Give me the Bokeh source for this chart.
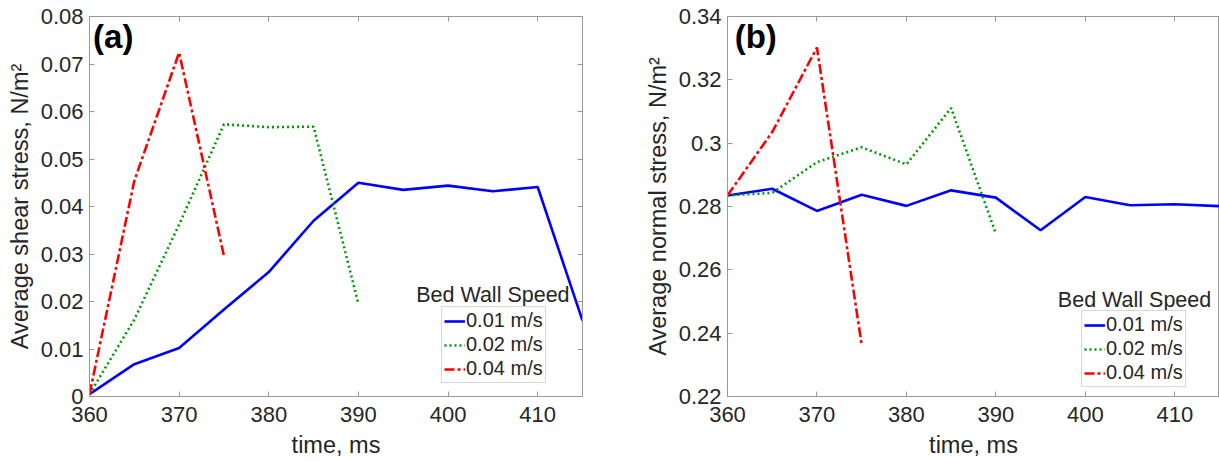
from bokeh.plotting import figure
from bokeh.models import (LinearAxis, FixedTicker, CustomJSTickFormatter, Legend,
                          LegendItem, Label, Range1d)
from bokeh.layouts import row
from bokeh.embed import file_html
from bokeh.resources import INLINE

# ---------------- data ----------------
time_001 = [360, 365, 370, 375, 380, 385, 390, 395, 400, 405, 410, 415]
time_002 = [360, 365, 370, 375, 380, 385, 390]
time_004 = [360, 365, 370, 375]

shear_001 = [0.0005, 0.0068, 0.0102, 0.0183, 0.0262, 0.0370, 0.0450, 0.0435, 0.0444, 0.0432, 0.0441, 0.0160]
shear_002 = [0.0005, 0.0162, 0.0362, 0.0573, 0.0567, 0.0568, 0.0195]
shear_004 = [0.0005, 0.0454, 0.0724, 0.0296]

normal_001 = [0.2835, 0.2856, 0.2786, 0.2837, 0.2802, 0.2851, 0.2828, 0.2725, 0.2830, 0.2804, 0.2807, 0.2801]
normal_002 = [0.2835, 0.2843, 0.2940, 0.2987, 0.2933, 0.3111, 0.2714]
normal_004 = [0.2835, 0.3035, 0.3302, 0.2363]

x_ticks = [360, 370, 380, 390, 400, 410]
shear_ticks = [0, 0.01, 0.02, 0.03, 0.04, 0.05, 0.06, 0.07, 0.08]
normal_ticks = [0.22, 0.24, 0.26, 0.28, 0.30, 0.32, 0.34]
series_labels = ["0.01 m/s", "0.02 m/s", "0.04 m/s"]

FONT = "Liberation Sans"
AX_COL = "#999999"
TXT_COL = "#262626"

fmt = CustomJSTickFormatter(code="return String(Math.round(tick*100)/100);")
blank_fmt = CustomJSTickFormatter(code="return '';")


def style_axis(ax, ticks, show_labels=True):
    ax.ticker = FixedTicker(ticks=ticks)
    ax.axis_line_color = AX_COL
    ax.major_tick_line_color = AX_COL
    ax.major_tick_in = 5
    ax.major_tick_out = 0
    ax.minor_tick_line_color = None
    ax.major_label_text_font = FONT
    ax.major_label_text_color = TXT_COL
    ax.axis_label_text_font = FONT
    ax.axis_label_text_color = TXT_COL
    ax.axis_label_text_font_style = "normal"
    ax.axis_label_text_font_size = "23.5px"
    ax.major_label_text_font_size = "22px"
    if show_labels:
        ax.formatter = fmt
    else:
        ax.formatter = blank_fmt
        ax.major_label_standoff = 0


def make_panel(width, min_left, min_right, yr, yticks, ylabel, ys, tag, tag_pos,
               title_pos, legend_loc, add_right):
    p = figure(width=width, height=461, output_backend="svg", toolbar_location=None,
               x_range=Range1d(360, 415), y_range=Range1d(*yr),
               min_border_left=min_left, min_border_right=min_right,
               min_border_top=16, min_border_bottom=65,
               x_axis_label="time, ms", y_axis_label=ylabel)
    p.grid.visible = False
    p.outline_line_color = AX_COL
    p.background_fill_color = "white"
    p.border_fill_color = "white"

    style_axis(p.xaxis[0], x_ticks)
    style_axis(p.yaxis[0], yticks)
    p.xaxis[0].major_label_standoff = 10
    p.xaxis[0].axis_label_standoff = 7
    p.yaxis[0].major_label_standoff = 6
    p.yaxis[0].axis_label_standoff = 5

    top = LinearAxis()
    style_axis(top, x_ticks, show_labels=False)
    p.add_layout(top, "above")
    if add_right:
        r = LinearAxis()
        style_axis(r, yticks, show_labels=False)
        p.add_layout(r, "right")

    l1 = p.line(time_001, ys[0], line_color="#0000ff", line_width=2.6)
    l2 = p.line(time_002, ys[1], line_color="#009a00", line_width=2.6, line_dash="2 3")
    l3 = p.line(time_004, ys[2], line_color="#ff0000", line_width=2.6, line_dash="10 3 3 3")

    legend = Legend(items=[LegendItem(label=series_labels[0], renderers=[l1]),
                           LegendItem(label=series_labels[1], renderers=[l2]),
                           LegendItem(label=series_labels[2], renderers=[l3])],
                    location=legend_loc)
    legend.label_text_font = FONT
    legend.label_text_font_size = "20px"
    legend.label_text_color = TXT_COL
    legend.glyph_width = 21
    legend.glyph_height = 22
    legend.label_height = 22
    legend.label_width = 10
    legend.label_standoff = 1
    legend.spacing = 1
    legend.padding = 2
    legend.margin = 0
    legend.border_line_color = "#b0b0b0"
    legend.border_line_width = 1
    legend.background_fill_alpha = 1.0
    p.add_layout(legend)

    p.add_layout(Label(x=title_pos[0], y=title_pos[1], text="Bed Wall Speed",
                       text_font=FONT, text_font_size="21.5px", text_color=TXT_COL,
                       text_align="center", text_baseline="middle"))
    p.add_layout(Label(x=tag_pos[0], y=tag_pos[1], text=tag, text_font=FONT,
                       text_font_size="33px", text_font_style="bold",
                       text_color="#000000", text_align="left", text_baseline="top"))
    return p


p1 = make_panel(605, 89, 23, (0, 0.08), shear_ticks, "Average shear stress, N/m²",
                [shear_001, shear_002, shear_004], "(a)", (360.4, 0.0797),
                (405.0, 0.0213), (352, 13), True)
p2 = make_panel(614, 122, 0, (0.22, 0.34), normal_ticks, "Average normal stress, N/m²",
                [normal_001, normal_002, normal_004], "(b)", (360.8, 0.3395),
                (405.5, 0.2506), (354, 9), False)

layout = row(p1, p2)
open("out.html", "w").write(file_html(layout, INLINE))
